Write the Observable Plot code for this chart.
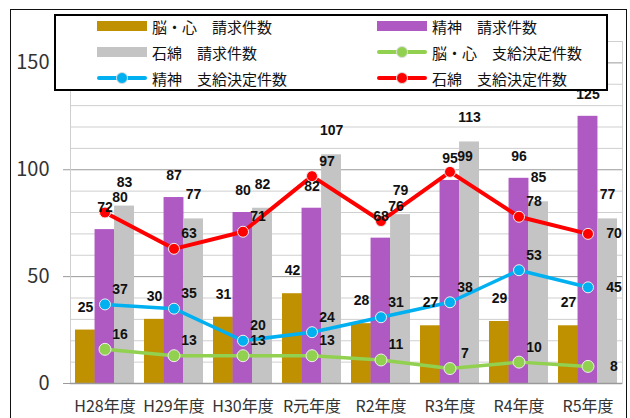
<!DOCTYPE html>
<html><head><meta charset="utf-8">
<script src="https://cdn.jsdelivr.net/npm/d3@7"></script>
<script src="https://cdn.jsdelivr.net/npm/@observablehq/plot@0.6"></script>
<style>
html,body{margin:0;padding:0;background:#fff;}
#wrap{position:relative;width:630px;height:418px;overflow:hidden;font-family:"Noto Sans CJK JP","Noto Sans",sans-serif;}
#outer{position:absolute;left:10px;top:9px;width:617px;height:430px;border:1.5px solid #111;box-sizing:border-box;}
#legend{position:absolute;left:54px;top:14px;width:554px;height:77px;border:2px solid #000;background:#fff;box-sizing:border-box;}
.li{position:absolute;height:20px;display:flex;align-items:center;font-size:15px;color:#111;white-space:pre;}
.sw{width:50px;height:20px;margin-right:5px;position:relative;}
#plot{position:absolute;left:0;top:0;}
</style></head><body>
<div id="wrap"><div id="outer"></div><div id="plot"></div><div id="legend"></div></div>
<script>
const categories = ["H28年度","H29年度","H30年度","R元年度","R2年度","R3年度","R4年度","R5年度"];
const brainClaims    = [25, 30, 31, 42, 28, 27, 29, 27];
const mentalClaims   = [72, 87, 80, 82, 68, 95, 96, 125];
const asbestosClaims = [83, 77, 82, 107, 79, 113, 85, 77];
const brainAwards    = [16, 13, 13, 13, 11, 7, 10, 8];
const mentalAwards   = [37, 35, 20, 24, 31, 38, 53, 45];
const asbestosAwards = [80, 63, 71, 97, 76, 99, 78, 70];
const seriesNames = ["脳・心　請求件数","精神　請求件数","石綿　請求件数","脳・心　支給決定件数","精神　支給決定件数","石綿　支給決定件数"];
const yTicks = [0, 50, 100, 150];

const colors = {brainC:"#BF9000", mentalC:"#AF59C2", asbC:"#C4C4C4", brainA:"#92D050", mentalA:"#00B0F0", asbA:"#FF0000"};

const W = 630, H = 418, ML = 70, MR = 8, MT = 41, MB = 35;
const PI = 0.15, PO = 0.075;
const band = d3.scaleBand().domain(categories).range([ML, W - MR]).paddingInner(PI).paddingOuter(PO);
const bw = band.bandwidth(), third = bw / 3;

const rows = (vals) => categories.map((c, i) => ({cat: c, v: vals[i], last: i === categories.length - 1}));
const bC = rows(brainClaims), mC = rows(mentalClaims), aC = rows(asbestosClaims);
const bA = rows(brainAwards), mA = rows(mentalAwards), aA = rows(asbestosAwards);

const labelFont = {fontSize: 14, fontWeight: "bold", fontFamily: "Liberation Sans, Arial, sans-serif", fill: "#111"};
const lineSeries = (data, color, sw, r) => [
  Plot.line(data, {x: "cat", y: "v", stroke: color, strokeWidth: sw}),
  Plot.dot(data, {x: "cat", y: "v", r: r, fill: color, stroke: "#eeeeee", strokeWidth: 1})
];
// line labels: above-right, except the final point which is labelled to the right
const lineLabels = (data) => [
  Plot.text(data.filter(d => !d.last), {x: "cat", y: "v", text: "v", dx: 15, dy: -15, ...labelFont}),
  Plot.text(data.filter(d => d.last), {x: "cat", y: "v", text: "v", dx: 26, dy: 0, ...labelFont})
];

const chart = Plot.plot({
  width: W, height: H, marginLeft: ML, marginRight: MR, marginTop: MT, marginBottom: MB,
  style: {fontFamily: "Noto Sans CJK JP, Noto Sans, sans-serif", background: "transparent"},
  x: {domain: categories, paddingInner: PI, paddingOuter: PO, label: null},
  y: {domain: [0, 160], label: null},
  marks: [
    Plot.ruleY(d3.range(10, 161, 10).filter(v => v % 50 !== 0), {stroke: "#cfcfcf", strokeWidth: 1}),
    Plot.ruleY([50, 100, 150], {stroke: "#9a9a9a", strokeWidth: 1}),
    Plot.frame({stroke: "#cfcfcf"}),
    Plot.barY(bC, {x: "cat", y: "v", fill: colors.brainC, insetLeft: 0, insetRight: 2 * third}),
    Plot.barY(mC, {x: "cat", y: "v", fill: colors.mentalC, insetLeft: third, insetRight: third}),
    Plot.barY(aC, {x: "cat", y: "v", fill: colors.asbC, insetLeft: 2 * third, insetRight: 0}),
    Plot.ruleY([0], {stroke: "#9a9a9a", strokeWidth: 1.5}),
    Plot.axisY({ticks: yTicks, tickSize: 7, tickPadding: 14, fontSize: 20, stroke: "#9a9a9a", fill: "#333"}),
    Plot.axisX({tickSize: 0, tickPadding: 17, fontSize: 16, fill: "#333"}),
    ...lineSeries(bA, colors.brainA, 3.5, 6),
    ...lineSeries(mA, colors.mentalA, 3.5, 5.5),
    ...lineSeries(aA, colors.asbA, 4, 5.5),
    Plot.text(bC, {x: "cat", y: "v", text: "v", dx: -third, dy: -23, ...labelFont}),
    Plot.text(mC, {x: "cat", y: "v", text: "v", dx: 0, dy: -22, ...labelFont}),
    Plot.text(aC, {x: "cat", y: "v", text: "v", dx: third, dy: -24, ...labelFont}),
    ...lineLabels(bA),
    ...lineLabels(mA),
    ...lineLabels(aA)
  ]
});
document.getElementById("plot").appendChild(chart);

// legend
const legend = document.getElementById("legend");
const legendItems = [
  {name: seriesNames[0], color: colors.brainC, type: "bar", col: 0, row: 0},
  {name: seriesNames[1], color: colors.mentalC, type: "bar", col: 1, row: 0},
  {name: seriesNames[2], color: colors.asbC, type: "bar", col: 0, row: 1},
  {name: seriesNames[3], color: colors.brainA, type: "line", col: 1, row: 1},
  {name: seriesNames[4], color: colors.mentalA, type: "line", col: 0, row: 2},
  {name: seriesNames[5], color: colors.asbA, type: "line", col: 1, row: 2}
];
const colX = [41, 321], rowY = [0, 26, 52];
legendItems.forEach(it => {
  const d = document.createElement("div");
  d.className = "li";
  d.style.left = colX[it.col] + "px";
  d.style.top = (rowY[it.row]) + "px";
  const sw = document.createElement("div");
  sw.className = "sw";
  if (it.type === "bar") {
    sw.innerHTML = `<div style="position:absolute;left:0;top:5px;width:50px;height:10px;background:${it.color}"></div>`;
  } else {
    sw.innerHTML = `<div style="position:absolute;left:0;top:8px;width:50px;height:4px;background:${it.color};border-radius:2px"></div>` +
      `<div style="position:absolute;left:19px;top:4px;width:10px;height:10px;border-radius:50%;background:${it.color};border:1px solid #ddd"></div>`;
  }
  d.appendChild(sw);
  const t = document.createElement("span");
  t.textContent = it.name;
  d.appendChild(t);
  legend.appendChild(d);
});
</script>
</body></html>
